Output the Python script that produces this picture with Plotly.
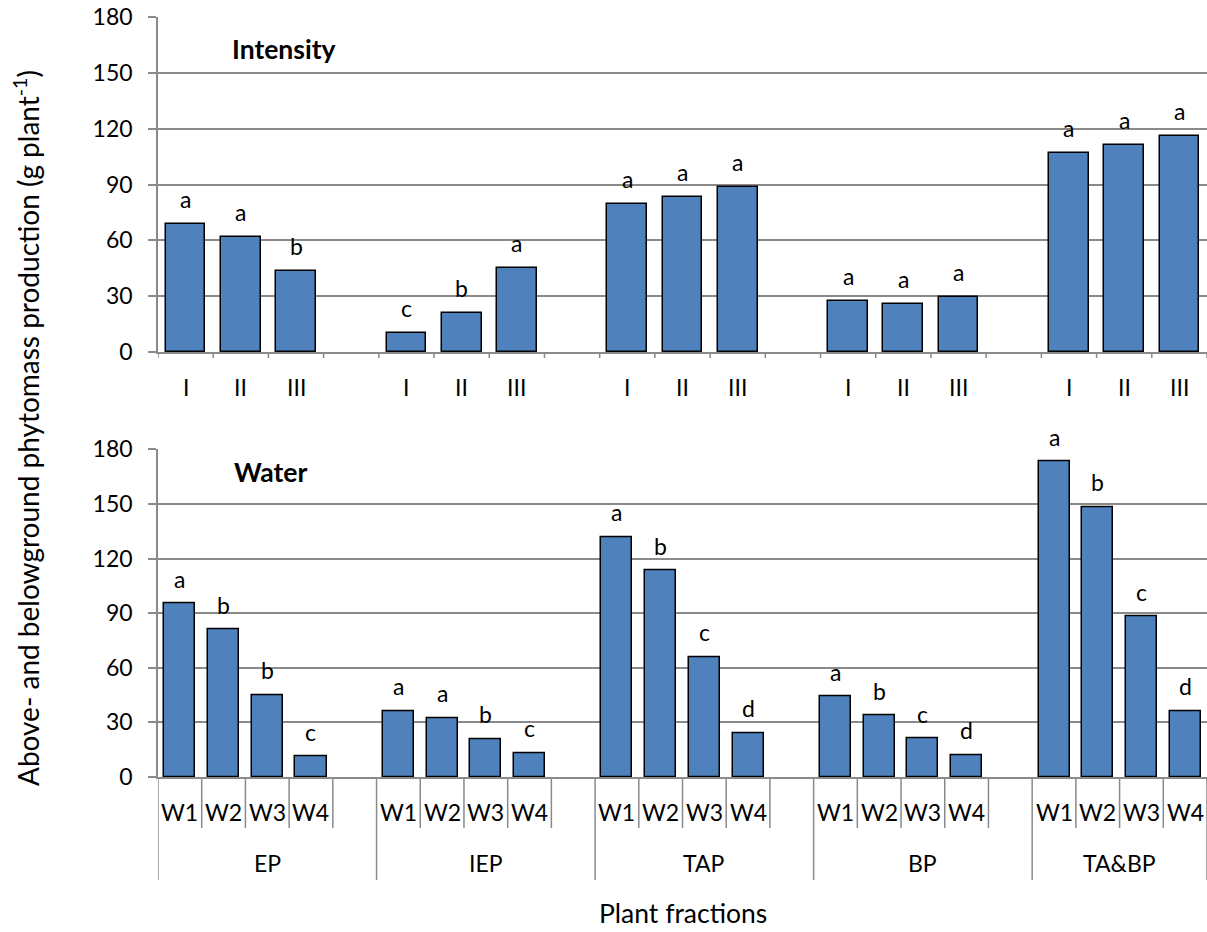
import plotly.graph_objects as go

# ---------------- data ----------------
groups = ["EP", "IEP", "TAP", "BP", "TA&BP"]
intensity_levels = ["I", "II", "III"]
water_levels = ["W1", "W2", "W3", "W4"]

intensity_EP = [68.6, 61.6, 43.5]
intensity_IEP = [10.4, 21.1, 45.0]
intensity_TAP = [79.4, 83.1, 88.8]
intensity_BP = [27.4, 26.0, 29.4]
intensity_TABP = [106.8, 111.2, 116.2]

intensity_letters_EP = ["a", "a", "b"]
intensity_letters_IEP = ["c", "b", "a"]
intensity_letters_TAP = ["a", "a", "a"]
intensity_letters_BP = ["a", "a", "a"]
intensity_letters_TABP = ["a", "a", "a"]

water_EP = [95.2, 80.9, 45.0, 11.2]
water_IEP = [36.3, 32.2, 20.7, 13.2]
water_TAP = [131.7, 113.3, 65.9, 24.2]
water_BP = [44.1, 33.7, 21.0, 11.9]
water_TABP = [173.2, 148.1, 88.1, 36.1]

water_letters_EP = ["a", "b", "b", "c"]
water_letters_IEP = ["a", "a", "b", "c"]
water_letters_TAP = ["a", "b", "c", "d"]
water_letters_BP = ["a", "b", "c", "d"]
water_letters_TABP = ["a", "b", "c", "d"]

y_ticks = [0, 30, 60, 90, 120, 150, 180]

intensity_values = [intensity_EP, intensity_IEP, intensity_TAP, intensity_BP, intensity_TABP]
intensity_letters = [intensity_letters_EP, intensity_letters_IEP, intensity_letters_TAP,
                     intensity_letters_BP, intensity_letters_TABP]
water_values = [water_EP, water_IEP, water_TAP, water_BP, water_TABP]
water_letters = [water_letters_EP, water_letters_IEP, water_letters_TAP,
                 water_letters_BP, water_letters_TABP]

# ---------------- layout constants ----------------
W, H = 1207, 932
L = 158
FONT = "Lato"
BAR = "#4F81BD"
GRID = "#8a8a8a"
TICK_SIZE = 23
TITLE_SIZE = 26.5

def py(px):
    return 1 - px / H

def pxx(px):
    return (px - L) / (W - L)

top_dom = [py(352), py(17)]
bot_dom = [py(777), py(449.3)]

n_top = len(intensity_levels) + 1
n_bot = len(water_levels) + 1
top_slots = n_top * len(groups) - 1
bot_slots = n_bot * len(groups) - 1

fig = go.Figure()

# top panel bars
tx, ty, tl, tlab = [], [], [], []
for g, vals in enumerate(intensity_values):
    for i, v in enumerate(vals):
        tx.append(g * n_top + i + 0.5)
        ty.append(v)
        tl.append(intensity_letters[g][i])
        tlab.append(intensity_levels[i])
fig.add_trace(go.Bar(x=tx, y=ty, width=0.72, marker=dict(color=BAR, line=dict(color="black", width=1.5)),
                     xaxis="x", yaxis="y", showlegend=False, hoverinfo="y"))

bx, by, bl, blab = [], [], [], []
for g, vals in enumerate(water_values):
    for i, v in enumerate(vals):
        bx.append(g * n_bot + i + 0.5)
        by.append(v)
        bl.append(water_letters[g][i])
        blab.append(water_levels[i])
fig.add_trace(go.Bar(x=bx, y=by, width=0.71, marker=dict(color=BAR, line=dict(color="black", width=1.5)),
                     xaxis="x2", yaxis="y2", showlegend=False, hoverinfo="y"))

annotations = []
shapes = []
for x, y, t in zip(tx, ty, tl):
    annotations.append(dict(x=x, y=y, xref="x", yref="y", text=t, showarrow=False,
                            yanchor="middle", yshift=25, font=dict(size=TICK_SIZE)))
for x, y, t in zip(bx, by, bl):
    annotations.append(dict(x=x, y=y, xref="x2", yref="y2", text=t, showarrow=False,
                            yanchor="middle", yshift=25, font=dict(size=TICK_SIZE)))

# top category labels
for x, t in zip(tx, tlab):
    annotations.append(dict(x=x, y=0, xref="x", yref="y domain", text=t, showarrow=False,
                            yanchor="middle", yshift=-35, font=dict(size=TICK_SIZE)))
# bottom category labels
for x, t in zip(bx, blab):
    annotations.append(dict(x=x, y=0, xref="x2", yref="y2 domain", text=t, showarrow=False,
                            yanchor="middle", yshift=-35, font=dict(size=TICK_SIZE)))
for g, name in enumerate(groups):
    start = g * n_bot
    end = min(start + n_bot, bot_slots)
    annotations.append(dict(x=(start + end) / 2, y=0, xref="x2", yref="y2 domain", text=name,
                            showarrow=False, yanchor="middle", yshift=-86, font=dict(size=TICK_SIZE)))

# top boundary ticks
for b in range(top_slots + 1):
    shapes.append(dict(type="line", xref="x", yref="paper", x0=b, x1=b, y0=py(352), y1=py(358),
                       line=dict(color=GRID, width=1.5)))
# bottom separators
for b in range(bot_slots + 1):
    long_line = (b % n_bot == 0) or b == bot_slots
    y1 = py(880) if long_line else py(828)
    shapes.append(dict(type="line", xref="x2", yref="paper", x0=b, x1=b, y0=py(777), y1=y1,
                       line=dict(color=GRID, width=1.5)))

# panel titles
annotations.append(dict(x=pxx(284), y=py(49), xref="paper", yref="paper", text="<b>Intensity</b>",
                        showarrow=False, xanchor="center", yanchor="middle",
                        font=dict(size=TITLE_SIZE)))
annotations.append(dict(x=pxx(270), y=py(471.7), xref="paper", yref="paper",
                        text="<b>Water</b>", showarrow=False, xanchor="center", yanchor="middle",
                        font=dict(size=TITLE_SIZE)))

# axis titles
annotations.append(dict(x=0.5, y=py(931), xref="paper", yref="paper", text="Plant fractions",
                        showarrow=False, xanchor="center", yanchor="bottom",
                        font=dict(size=TITLE_SIZE)))
annotations.append(dict(x=0, y=py(428), xref="paper", yref="paper", xshift=27 - L,
                        text="Above- and belowground phytomass production (g plant<sup>-1</sup>)",
                        textangle=-90, showarrow=False, xanchor="center", yanchor="middle",
                        font=dict(size=28)))

yax = dict(range=[0, 180], tickvals=y_ticks, showgrid=True, gridcolor=GRID, gridwidth=1.5,
           showline=True, linecolor=GRID, linewidth=1.5, ticks="outside", ticklen=8,
           tickcolor=GRID, tickwidth=1.5, zeroline=False, ticklabelstandoff=11,
           tickfont=dict(size=TICK_SIZE), automargin=False, fixedrange=True)

fig.update_layout(
    width=W, height=H,
    margin=dict(l=L, r=0, t=0, b=0, pad=0),
    paper_bgcolor="white", plot_bgcolor="white",
    font=dict(family=FONT, color="black"),
    bargap=0,
    xaxis=dict(domain=[0, 1], range=[0, top_slots], showticklabels=False, showgrid=False,
               showline=True, linecolor=GRID, linewidth=1.5, zeroline=False, anchor="y",
               fixedrange=True, automargin=False),
    yaxis=dict(domain=top_dom, anchor="x", **yax),
    xaxis2=dict(domain=[0, 1], range=[0, bot_slots], showticklabels=False, showgrid=False,
                showline=True, linecolor=GRID, linewidth=1.5, zeroline=False, anchor="y2",
                fixedrange=True, automargin=False),
    yaxis2=dict(domain=bot_dom, anchor="x2", **yax),
    annotations=annotations,
    shapes=shapes,
)

fig.write_html("out.html")
